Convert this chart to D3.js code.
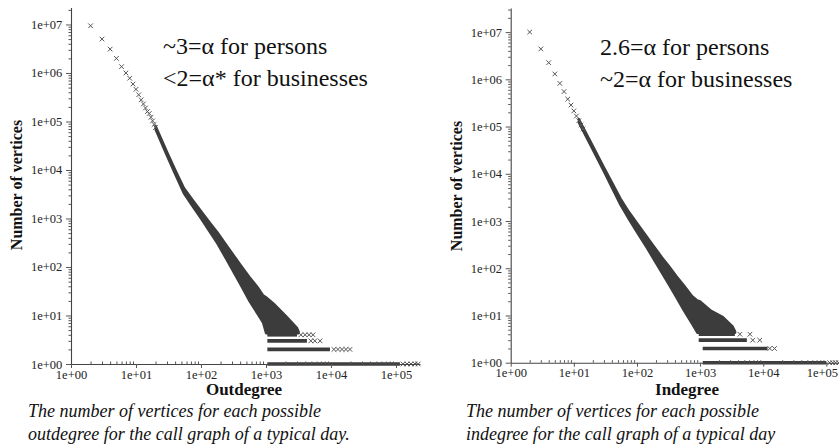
<!DOCTYPE html>
<html><head><meta charset="utf-8">
<script src="https://cdn.jsdelivr.net/npm/d3@7"></script>
<style>
html,body{margin:0;padding:0;background:#fff;}
svg{display:block;}
</style></head><body>
<svg id="chart" width="839" height="448"></svg>
<script>
// Degree distributions of the call graph for one day (log-log)
const degreeTicks = [1, 10, 100, 1000, 10000, 100000];
const degreeTickLabels = ["1e+00", "1e+01", "1e+02", "1e+03", "1e+04", "1e+05"];
const countTicks = [1, 10, 100, 1000, 10000, 100000, 1000000, 10000000];
const countTickLabels = ["1e+00", "1e+01", "1e+02", "1e+03", "1e+04", "1e+05", "1e+06", "1e+07"];

// Outdegree: separately visible points at small degree
const outK = [2, 3, 4, 5, 6, 7, 8, 9, 10, 11, 12, 13, 14, 15, 16, 17, 18, 19, 20];
const outCount = [9.4e6, 5.0e6, 3.1e6, 2.0e6, 1.35e6, 1.0e6, 7.8e5, 5.9e5, 4.6e5, 3.55e5,
  2.8e5, 2.3e5, 1.9e5, 1.6e5, 1.46e5, 1.22e5, 1.03e5, 8.7e4, 7.5e4];
// Outdegree: dense band of overlapping points
const outBandK = [20, 30, 40, 55, 75, 100, 140, 180, 250, 320, 420, 560, 750, 900, 1000, 1300, 2000, 3000, 3200];
const outBandLo = [68400, 19300, 8130, 3200, 1740, 995, 500, 298, 138, 75.9, 39.6, 19.5, 10.5, 7.1, 4.3, 4.3, 4.3, 4.3, 4.3];
const outBandHi = [82200, 23700, 10200, 4220, 2400, 1440, 794, 518, 275, 174, 104, 61.7, 38, 26.3, 24, 17.8, 10, 5.6, 4.6];
// Outdegree tail: rows of points at 1..4 vertices
const outRowCount = [1, 2, 3, 4];
const outRowFrom = [1050, 1050, 1050, 1050];
const outRowTo = [115000, 9650, 4270, 3000];
const outSparseK = [128000, 148000, 170000, 196000, 220000, 11100, 12800, 14800, 17000, 19600, 4900, 5650, 6800, 3450, 4000, 4600, 5300];
const outSparseCount = [1, 1, 1, 1, 1, 2, 2, 2, 2, 2, 3, 3, 3, 4, 4, 4, 4];

// Indegree: separately visible points at small degree
const inK = [2, 3, 4, 5, 6, 7, 8, 9, 10, 11, 12, 13, 14];
const inCount = [1.0e7, 4.4e6, 2.25e6, 1.3e6, 8.2e5, 5.5e5, 3.8e5, 2.85e5, 2.15e5, 1.67e5, 1.33e5, 1.08e5, 8.9e4];
// Indegree: dense band of overlapping points
const inBandK = [12, 20, 30, 40, 55, 75, 100, 140, 180, 250, 320, 420, 560, 750, 900, 1000, 1500, 2300, 3300, 3600];
const inBandLo = [120000, 32000, 11000, 5070, 2160, 1070, 575, 282, 162, 77.6, 44.7, 24, 12.3, 6.5, 4.3, 4.3, 4.3, 4.3, 4.3, 4.3];
const inBandHi = [145000, 39400, 13800, 6680, 2990, 1550, 912, 490, 309, 170, 112, 69, 42.7, 25.7, 21, 20, 12.6, 9.3, 5.8, 4.6];
// Indegree tail: rows of points at 1..4 vertices
const inRowCount = [1, 2, 3, 4];
const inRowFrom = [1100, 1100, 950, 950];
const inRowTo = [100000, 11700, 5500, 3550];
const inSparseK = [113000, 126000, 140000, 157000, 12700, 15100, 6820, 8800, 4270, 6160];
const inSparseCount = [1, 1, 1, 1, 2, 2, 3, 3, 4, 4];

const SERIF = "'Liberation Serif', 'Times New Roman', 'DejaVu Serif', serif";
const svg = d3.select("#chart");
const ink = "#3c3c3c";

function minorValues(lo, hi) {
  const v = [];
  for (let p = lo; p <= hi; p++) {
    for (let m = 2; m <= 9; m++) v.push(m * Math.pow(10, p));
  }
  return v;
}

function panel(cfg) {
  const g = svg.append("g");
  const x = d3.scaleLog().domain(cfg.xDomain).range(cfg.xRange);
  const y = d3.scaleLog().domain(cfg.yDomain).range(cfg.yRange);

  // dense band
  const band = cfg.bandK.map((k, i) => ({k, lo: cfg.bandLo[i], hi: cfg.bandHi[i]}));
  g.append("path").datum(band)
    .attr("d", d3.area().x(d => x(d.k)).y0(d => y(d.lo)).y1(d => y(d.hi)))
    .attr("fill", ink).attr("stroke", ink).attr("stroke-width", 2.2).attr("stroke-linejoin", "round");

  // tail rows
  g.selectAll(".row").data(cfg.rowCount).enter().append("line")
    .attr("x1", (c, i) => x(cfg.rowFrom[i])).attr("x2", (c, i) => x(cfg.rowTo[i]))
    .attr("y1", c => y(c)).attr("y2", c => y(c))
    .attr("stroke", ink).attr("stroke-width", 3.6);

  const cross = "M-2.3,-2.3L2.3,2.3M-2.3,2.3L2.3,-2.3";
  const pts = cfg.k.map((k, i) => ({k, c: cfg.count[i]}))
    .concat(cfg.sparseK.map((k, i) => ({k, c: cfg.sparseCount[i]})));
  g.selectAll(".pt").data(pts).enter().append("path")
    .attr("d", cross)
    .attr("transform", d => `translate(${x(d.k)},${y(d.c)})`)
    .attr("fill", "none").attr("stroke", "#555").attr("stroke-width", 1);

  // axes
  const xAxis = g.append("g").attr("transform", `translate(0,${cfg.yRange[0]})`)
    .call(d3.axisBottom(x).tickValues(degreeTicks)
      .tickFormat((d, i) => degreeTickLabels[i]).tickSize(4).tickSizeOuter(0));
  g.append("g").attr("transform", `translate(0,${cfg.yRange[0]})`)
    .call(d3.axisTop(x).tickValues(minorValues(0, 5).filter(v => v <= cfg.xDomain[1]))
      .tickFormat("").tickSize(2.5).tickSizeOuter(0))
    .select(".domain").remove();
  const yAxis = g.append("g").attr("transform", `translate(${cfg.xRange[0]},0)`)
    .call(d3.axisLeft(y).tickValues(countTicks)
      .tickFormat((d, i) => countTickLabels[i]).tickSize(5).tickSizeOuter(0));
  g.append("g").attr("transform", `translate(${cfg.xRange[0]},0)`)
    .call(d3.axisLeft(y).tickValues(minorValues(0, 7).filter(v => v <= cfg.yDomain[1]))
      .tickFormat("").tickSize(2.5).tickSizeOuter(0))
    .select(".domain").remove();

  g.selectAll(".domain").attr("stroke", "#444").attr("stroke-width", 1.1);
  g.selectAll(".tick line").attr("stroke", "#555");
  xAxis.attr("font-family", SERIF);
  yAxis.attr("font-family", SERIF);
  xAxis.selectAll("text").style("font-family", SERIF).attr("font-size", 12.5)
    .attr("fill", "#222").attr("dy", "0.6em");
  // keep the last degree label inside the drawing area
  xAxis.selectAll(".tick text").filter(function () {
    const t = this.parentNode.getAttribute("transform");
    const tx = +t.slice(t.indexOf("(") + 1, t.indexOf(","));
    return tx + 16 > 839;
  }).attr("text-anchor", "end").attr("x", function () {
    const t = this.parentNode.getAttribute("transform");
    const tx = +t.slice(t.indexOf("(") + 1, t.indexOf(","));
    return 838 - tx;
  });
  yAxis.selectAll("text").style("font-family", SERIF).attr("font-size", 12.5)
    .attr("fill", "#222").attr("dx", "-0.05em");

  // axis titles
  g.append("text").attr("transform", `translate(${cfg.yTitleX},${cfg.yTitleY}) rotate(-90)`)
    .style("font-family", SERIF)
    .attr("text-anchor", "middle").attr("font-weight", "bold").attr("font-size", 16).attr("fill", "#111")
    .text("Number of vertices");
  g.append("text").attr("x", cfg.xTitleX).attr("y", 395)
    .style("font-family", SERIF)
    .attr("text-anchor", "middle").attr("font-weight", "bold").attr("font-size", 17).attr("fill", "#111")
    .text(cfg.xTitle);

  // exponent notes
  g.selectAll(".note").data(cfg.notes).enter().append("text")
    .style("font-family", SERIF)
    .attr("x", cfg.noteX).attr("y", (d, i) => cfg.noteY + i * 32)
    .attr("font-size", 24).attr("fill", "#111").text(d => d);

  // caption
  g.selectAll(".cap").data(cfg.caption).enter().append("text")
    .style("font-family", SERIF)
    .attr("x", cfg.capX).attr("y", (d, i) => 417 + i * 23)
    .attr("font-size", 18).attr("font-style", "italic").attr("fill", "#111").text(d => d);
}

panel({
  xDomain: [1, Math.pow(10, 5.37)], xRange: [71, 420],
  yDomain: [1, Math.pow(10, 7.35)], yRange: [364, 7.5],
  k: outK, count: outCount,
  bandK: outBandK, bandLo: outBandLo, bandHi: outBandHi,
  rowCount: outRowCount, rowFrom: outRowFrom, rowTo: outRowTo,
  sparseK: outSparseK, sparseCount: outSparseCount,
  yTitleX: 21.5, yTitleY: 185, xTitleX: 244, xTitle: "Outdegree",
  notes: ["~3=\u03b1 for persons", "<2=\u03b1* for businesses"], noteX: 163, noteY: 54,
  caption: ["The number of vertices for each possible",
            "outdegree for the call graph of a typical day."], capX: 28
});

panel({
  xDomain: [1, Math.pow(10, 5.2)], xRange: [510.7, 839],
  yDomain: [1, Math.pow(10, 7.51)], yRange: [362.7, 8],
  k: inK, count: inCount,
  bandK: inBandK, bandLo: inBandLo, bandHi: inBandHi,
  rowCount: inRowCount, rowFrom: inRowFrom, rowTo: inRowTo,
  sparseK: inSparseK, sparseCount: inSparseCount,
  yTitleX: 461.5, yTitleY: 186, xTitleX: 687, xTitle: "Indegree",
  notes: ["2.6=\u03b1 for persons", "~2=\u03b1 for businesses"], noteX: 600, noteY: 55,
  caption: ["The number of vertices for each possible",
            "indegree for the call graph of a typical day"], capX: 466
});
</script>
</body></html>
